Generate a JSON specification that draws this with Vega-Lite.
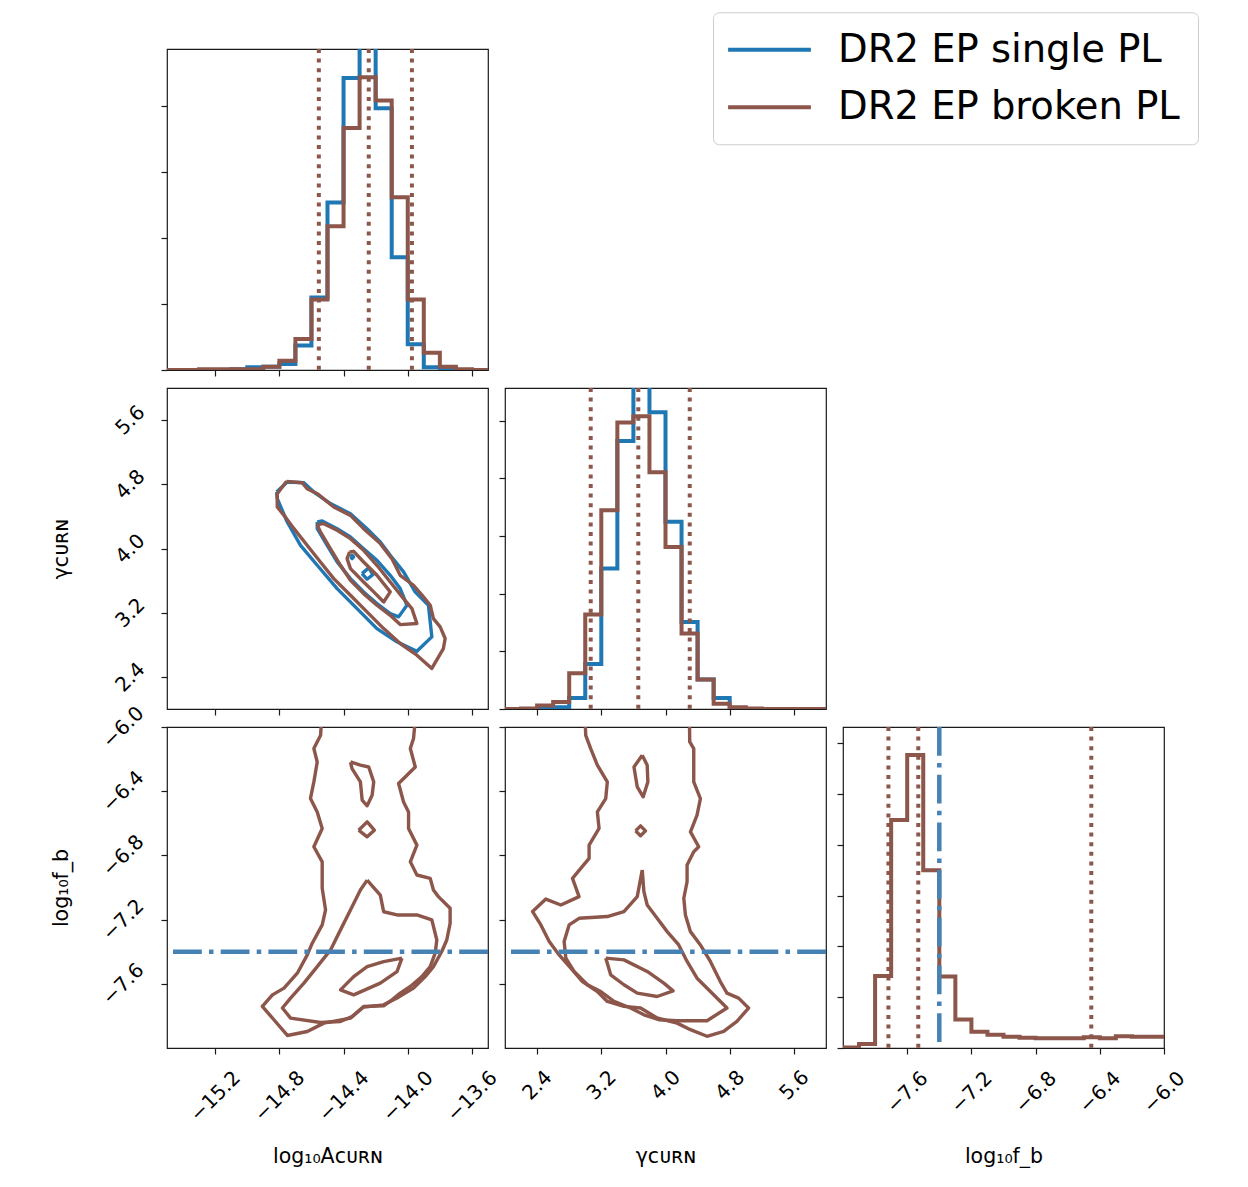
{
"$schema": "https://vega.github.io/schema/vega-lite/v6.json",
"background": "white",
"padding": {"left": 50, "top": 11, "right": 0, "bottom": 0},
"autosize": {"type": "pad"},
"datasets": {
"hA": [{"x":-15.5,"s":0,"b":0},{"x":-15.4,"s":0,"b":0},{"x":-15.3,"s":0,"b":0.01},{"x":-15.2,"s":0,"b":0.01},{"x":-15.1,"s":0.01,"b":0.01},{"x":-15.0,"s":0.04,"b":0.01},{"x":-14.9,"s":0.05,"b":0.05},{"x":-14.8,"s":0.09,"b":0.14},{"x":-14.7,"s":0.37,"b":0.47},{"x":-14.6,"s":1.10,"b":1.07},{"x":-14.5,"s":2.54,"b":2.18},{"x":-14.4,"s":4.43,"b":3.67},{"x":-14.3,"s":5.3,"b":4.44},{"x":-14.2,"s":3.97,"b":4.09},{"x":-14.1,"s":1.71,"b":2.62},{"x":-14.0,"s":0.39,"b":1.07},{"x":-13.9,"s":0.04,"b":0.26},{"x":-13.8,"s":0.01,"b":0.05},{"x":-13.7,"s":0,"b":0.01},{"x":-13.6,"s":0,"b":0},{"x":-13.5,"s":0,"b":0}],
"hB": [{"x":2.0,"s":0,"b":0},{"x":2.2,"s":0,"b":0.01},{"x":2.4,"s":0,"b":0.06},{"x":2.6,"s":0.03,"b":0.12},{"x":2.8,"s":0.19,"b":0.62},{"x":3.0,"s":0.78,"b":1.64},{"x":3.2,"s":2.44,"b":3.45},{"x":3.4,"s":4.65,"b":4.97},{"x":3.6,"s":5.9,"b":5.08},{"x":3.8,"s":5.15,"b":4.11},{"x":4.0,"s":3.25,"b":2.81},{"x":4.2,"s":1.51,"b":1.31},{"x":4.4,"s":0.51,"b":0.51},{"x":4.6,"s":0.19,"b":0.09},{"x":4.8,"s":0.01,"b":0.03},{"x":5.0,"s":0,"b":0.01},{"x":5.2,"s":0,"b":0},{"x":5.4,"s":0,"b":0},{"x":5.6,"s":0,"b":0},{"x":5.8,"s":0,"b":0},{"x":6.0,"s":0,"b":0}],
"hC": [{"x":-8.0,"b":0.01},{"x":-7.9,"b":0.08},{"x":-7.8,"b":1.42},{"x":-7.7,"b":4.49},{"x":-7.6,"b":5.77},{"x":-7.5,"b":3.50},{"x":-7.4,"b":1.41},{"x":-7.3,"b":0.56},{"x":-7.2,"b":0.32},{"x":-7.1,"b":0.26},{"x":-7.0,"b":0.22},{"x":-6.9,"b":0.20},{"x":-6.8,"b":0.19},{"x":-6.7,"b":0.19},{"x":-6.6,"b":0.19},{"x":-6.5,"b":0.21},{"x":-6.4,"b":0.19},{"x":-6.3,"b":0.23},{"x":-6.2,"b":0.22},{"x":-6.1,"b":0.22},{"x":-6.0,"b":0.22}],
"qA": [{"v":-14.554},{"v":-14.243},{"v":-13.974}],
"qB": [{"v":3.068},{"v":3.661},{"v":4.302}],
"qC": [{"v":-7.717},{"v":-7.531},{"v":-6.453}],
"fix": [{"v":-7.4}],
"cDs": [
{"c":"o","x":-14.817,"y":4.704},{"c":"o","x":-14.751,"y":4.828},{"c":"o","x":-14.647,"y":4.820},{"c":"o","x":-14.585,"y":4.704},{"c":"o","x":-14.482,"y":4.559},{"c":"o","x":-14.357,"y":4.434},{"c":"o","x":-14.254,"y":4.247},{"c":"o","x":-14.171,"y":4.081},{"c":"o","x":-14.109,"y":3.915},{"c":"o","x":-14.026,"y":3.708},{"c":"o","x":-13.954,"y":3.459},{"c":"o","x":-13.871,"y":3.293},{"c":"o","x":-13.850,"y":2.899},{"c":"o","x":-13.943,"y":2.720},{"c":"o","x":-14.068,"y":2.837},{"c":"o","x":-14.192,"y":3.002},{"c":"o","x":-14.316,"y":3.251},{"c":"o","x":-14.440,"y":3.500},{"c":"o","x":-14.564,"y":3.791},{"c":"o","x":-14.668,"y":4.040},{"c":"o","x":-14.751,"y":4.330},{"c":"o","x":-14.813,"y":4.621},{"c":"o","x":-14.817,"y":4.704},
{"c":"m","x":-14.564,"y":4.330},{"c":"m","x":-14.533,"y":4.343},{"c":"m","x":-14.440,"y":4.247},{"c":"m","x":-14.357,"y":4.144},{"c":"m","x":-14.275,"y":3.998},{"c":"m","x":-14.192,"y":3.853},{"c":"m","x":-14.109,"y":3.666},{"c":"m","x":-14.047,"y":3.500},{"c":"m","x":-14.005,"y":3.293},{"c":"m","x":-14.057,"y":3.148},{"c":"m","x":-14.109,"y":3.189},{"c":"m","x":-14.192,"y":3.314},{"c":"m","x":-14.275,"y":3.459},{"c":"m","x":-14.357,"y":3.625},{"c":"m","x":-14.440,"y":3.832},{"c":"m","x":-14.502,"y":4.040},{"c":"m","x":-14.564,"y":4.247},{"c":"m","x":-14.564,"y":4.330},
{"c":"i","x":-14.285,"y":3.687},{"c":"i","x":-14.243,"y":3.758},{"c":"i","x":-14.217,"y":3.675},{"c":"i","x":-14.254,"y":3.617},{"c":"i","x":-14.285,"y":3.687},
{"c":"j","x":-14.357,"y":3.895},{"c":"j","x":-14.347,"y":3.915},{"c":"j","x":-14.337,"y":3.895},{"c":"j","x":-14.347,"y":3.874},{"c":"j","x":-14.357,"y":3.895}],
"cDb": [
{"c":"o","x":-14.755,"y":4.837},{"c":"o","x":-14.658,"y":4.820},{"c":"o","x":-14.627,"y":4.745},{"c":"o","x":-14.564,"y":4.683},{"c":"o","x":-14.461,"y":4.517},{"c":"o","x":-14.357,"y":4.413},{"c":"o","x":-14.275,"y":4.247},{"c":"o","x":-14.171,"y":4.061},{"c":"o","x":-14.099,"y":3.874},{"c":"o","x":-14.047,"y":3.666},{"c":"o","x":-13.964,"y":3.542},{"c":"o","x":-13.902,"y":3.397},{"c":"o","x":-13.860,"y":3.293},{"c":"o","x":-13.840,"y":3.127},{"c":"o","x":-13.798,"y":3.023},{"c":"o","x":-13.767,"y":2.878},{"c":"o","x":-13.778,"y":2.753},{"c":"o","x":-13.850,"y":2.505},{"c":"o","x":-13.943,"y":2.670},{"c":"o","x":-14.047,"y":2.816},{"c":"o","x":-14.150,"y":3.002},{"c":"o","x":-14.254,"y":3.210},{"c":"o","x":-14.357,"y":3.417},{"c":"o","x":-14.461,"y":3.625},{"c":"o","x":-14.544,"y":3.832},{"c":"o","x":-14.627,"y":4.040},{"c":"o","x":-14.709,"y":4.247},{"c":"o","x":-14.771,"y":4.413},{"c":"o","x":-14.813,"y":4.517},{"c":"o","x":-14.813,"y":4.683},{"c":"o","x":-14.755,"y":4.837},
{"c":"m","x":-14.564,"y":4.297},{"c":"m","x":-14.523,"y":4.310},{"c":"m","x":-14.440,"y":4.227},{"c":"m","x":-14.357,"y":4.123},{"c":"m","x":-14.275,"y":3.978},{"c":"m","x":-14.192,"y":3.791},{"c":"m","x":-14.109,"y":3.583},{"c":"m","x":-14.026,"y":3.376},{"c":"m","x":-13.974,"y":3.251},{"c":"m","x":-13.943,"y":3.065},{"c":"m","x":-14.047,"y":3.052},{"c":"m","x":-14.109,"y":3.168},{"c":"m","x":-14.192,"y":3.293},{"c":"m","x":-14.275,"y":3.438},{"c":"m","x":-14.357,"y":3.604},{"c":"m","x":-14.419,"y":3.791},{"c":"m","x":-14.482,"y":3.998},{"c":"m","x":-14.544,"y":4.206},{"c":"m","x":-14.564,"y":4.297},
{"c":"i","x":-14.362,"y":3.957},{"c":"i","x":-14.337,"y":3.965},{"c":"i","x":-14.275,"y":3.832},{"c":"i","x":-14.192,"y":3.666},{"c":"i","x":-14.109,"y":3.459},{"c":"i","x":-14.150,"y":3.334},{"c":"i","x":-14.212,"y":3.459},{"c":"i","x":-14.275,"y":3.583},{"c":"i","x":-14.357,"y":3.749},{"c":"i","x":-14.378,"y":3.874},{"c":"i","x":-14.362,"y":3.957}],
"cE": [
{"c":"o","x":-14.537,"y":-5.95},{"c":"o","x":-14.543,"y":-6.052},{"c":"o","x":-14.585,"y":-6.134},{"c":"o","x":-14.564,"y":-6.218},{"c":"o","x":-14.585,"y":-6.342},{"c":"o","x":-14.606,"y":-6.445},{"c":"o","x":-14.564,"y":-6.529},{"c":"o","x":-14.533,"y":-6.632},{"c":"o","x":-14.585,"y":-6.746},{"c":"o","x":-14.533,"y":-6.840},{"c":"o","x":-14.533,"y":-7.005},{"c":"o","x":-14.512,"y":-7.140},{"c":"o","x":-14.533,"y":-7.233},{"c":"o","x":-14.595,"y":-7.347},{"c":"o","x":-14.626,"y":-7.420},{"c":"o","x":-14.688,"y":-7.534},{"c":"o","x":-14.771,"y":-7.627},{"c":"o","x":-14.843,"y":-7.669},{"c":"o","x":-14.906,"y":-7.741},{"c":"o","x":-14.834,"y":-7.824},{"c":"o","x":-14.750,"y":-7.922},{"c":"o","x":-14.626,"y":-7.897},{"c":"o","x":-14.523,"y":-7.845},{"c":"o","x":-14.357,"y":-7.814},{"c":"o","x":-14.275,"y":-7.745},{"c":"o","x":-14.150,"y":-7.731},{"c":"o","x":-14.057,"y":-7.683},{"c":"o","x":-13.964,"y":-7.627},{"c":"o","x":-13.891,"y":-7.555},{"c":"o","x":-13.840,"y":-7.493},{"c":"o","x":-13.788,"y":-7.399},{"c":"o","x":-13.757,"y":-7.327},{"c":"o","x":-13.736,"y":-7.223},{"c":"o","x":-13.736,"y":-7.129},{"c":"o","x":-13.809,"y":-7.057},{"c":"o","x":-13.840,"y":-7.016},{"c":"o","x":-13.860,"y":-6.943},{"c":"o","x":-13.943,"y":-6.922},{"c":"o","x":-13.984,"y":-6.840},{"c":"o","x":-13.943,"y":-6.736},{"c":"o","x":-13.995,"y":-6.632},{"c":"o","x":-13.995,"y":-6.529},{"c":"o","x":-14.026,"y":-6.467},{"c":"o","x":-14.057,"y":-6.352},{"c":"o","x":-13.953,"y":-6.249},{"c":"o","x":-13.984,"y":-6.134},{"c":"o","x":-13.964,"y":-6.072},{"c":"o","x":-13.953,"y":-5.95},
{"c":"s","x":-14.253,"y":-6.954},{"c":"s","x":-14.171,"y":-7.047},{"c":"s","x":-14.150,"y":-7.151},{"c":"s","x":-14.067,"y":-7.171},{"c":"s","x":-13.943,"y":-7.171},{"c":"s","x":-13.850,"y":-7.202},{"c":"s","x":-13.819,"y":-7.327},{"c":"s","x":-13.829,"y":-7.409},{"c":"s","x":-13.860,"y":-7.493},{"c":"s","x":-13.912,"y":-7.555},{"c":"s","x":-13.984,"y":-7.617},{"c":"s","x":-14.047,"y":-7.658},{"c":"s","x":-14.098,"y":-7.700},{"c":"s","x":-14.150,"y":-7.737},{"c":"s","x":-14.275,"y":-7.741},{"c":"s","x":-14.347,"y":-7.804},{"c":"s","x":-14.419,"y":-7.835},{"c":"s","x":-14.543,"y":-7.841},{"c":"s","x":-14.730,"y":-7.814},{"c":"s","x":-14.781,"y":-7.751},{"c":"s","x":-14.730,"y":-7.689},{"c":"s","x":-14.647,"y":-7.596},{"c":"s","x":-14.564,"y":-7.493},{"c":"s","x":-14.481,"y":-7.389},{"c":"s","x":-14.419,"y":-7.264},{"c":"s","x":-14.357,"y":-7.140},{"c":"s","x":-14.295,"y":-7.016},{"c":"s","x":-14.253,"y":-6.954},
{"c":"i","x":-14.036,"y":-7.440},{"c":"i","x":-14.067,"y":-7.524},{"c":"i","x":-14.171,"y":-7.596},{"c":"i","x":-14.337,"y":-7.669},{"c":"i","x":-14.419,"y":-7.638},{"c":"i","x":-14.337,"y":-7.555},{"c":"i","x":-14.253,"y":-7.493},{"c":"i","x":-14.150,"y":-7.462},{"c":"i","x":-14.036,"y":-7.440},
{"c":"k","x":-14.357,"y":-6.218},{"c":"k","x":-14.295,"y":-6.238},{"c":"k","x":-14.243,"y":-6.249},{"c":"k","x":-14.212,"y":-6.342},{"c":"k","x":-14.222,"y":-6.425},{"c":"k","x":-14.253,"y":-6.491},{"c":"k","x":-14.284,"y":-6.456},{"c":"k","x":-14.295,"y":-6.342},{"c":"k","x":-14.347,"y":-6.259},{"c":"k","x":-14.357,"y":-6.218},
{"c":"d","x":-14.306,"y":-6.643},{"c":"d","x":-14.253,"y":-6.591},{"c":"d","x":-14.208,"y":-6.643},{"c":"d","x":-14.253,"y":-6.684},{"c":"d","x":-14.306,"y":-6.643}],
"cF": [
{"c":"o","x":2.998,"y":-5.95},{"c":"o","x":3.006,"y":-6.052},{"c":"o","x":3.068,"y":-6.135},{"c":"o","x":3.151,"y":-6.238},{"c":"o","x":3.275,"y":-6.342},{"c":"o","x":3.255,"y":-6.446},{"c":"o","x":3.151,"y":-6.529},{"c":"o","x":3.172,"y":-6.632},{"c":"o","x":3.048,"y":-6.736},{"c":"o","x":3.048,"y":-6.819},{"c":"o","x":2.944,"y":-6.881},{"c":"o","x":2.841,"y":-6.943},{"c":"o","x":2.923,"y":-7.057},{"c":"o","x":2.696,"y":-7.109},{"c":"o","x":2.509,"y":-7.072},{"c":"o","x":2.344,"y":-7.150},{"c":"o","x":2.447,"y":-7.233},{"c":"o","x":2.551,"y":-7.337},{"c":"o","x":2.675,"y":-7.420},{"c":"o","x":2.820,"y":-7.503},{"c":"o","x":2.965,"y":-7.586},{"c":"o","x":3.151,"y":-7.648},{"c":"o","x":3.275,"y":-7.710},{"c":"o","x":3.482,"y":-7.741},{"c":"o","x":3.689,"y":-7.751},{"c":"o","x":3.896,"y":-7.813},{"c":"o","x":4.145,"y":-7.845},{"c":"o","x":4.311,"y":-7.886},{"c":"o","x":4.517,"y":-7.927},{"c":"o","x":4.725,"y":-7.896},{"c":"o","x":4.890,"y":-7.834},{"c":"o","x":5.035,"y":-7.751},{"c":"o","x":4.911,"y":-7.689},{"c":"o","x":4.766,"y":-7.658},{"c":"o","x":4.683,"y":-7.586},{"c":"o","x":4.559,"y":-7.461},{"c":"o","x":4.435,"y":-7.358},{"c":"o","x":4.311,"y":-7.275},{"c":"o","x":4.248,"y":-7.171},{"c":"o","x":4.228,"y":-7.067},{"c":"o","x":4.269,"y":-6.964},{"c":"o","x":4.269,"y":-6.860},{"c":"o","x":4.352,"y":-6.777},{"c":"o","x":4.414,"y":-6.746},{"c":"o","x":4.311,"y":-6.653},{"c":"o","x":4.393,"y":-6.549},{"c":"o","x":4.435,"y":-6.446},{"c":"o","x":4.352,"y":-6.342},{"c":"o","x":4.352,"y":-6.238},{"c":"o","x":4.352,"y":-6.135},{"c":"o","x":4.302,"y":-6.093},{"c":"o","x":4.298,"y":-5.95},
{"c":"s","x":3.710,"y":-6.891},{"c":"s","x":3.648,"y":-7.057},{"c":"s","x":3.482,"y":-7.150},{"c":"s","x":3.275,"y":-7.181},{"c":"s","x":2.923,"y":-7.192},{"c":"s","x":2.799,"y":-7.233},{"c":"s","x":2.737,"y":-7.337},{"c":"s","x":2.758,"y":-7.440},{"c":"s","x":2.861,"y":-7.523},{"c":"s","x":3.027,"y":-7.606},{"c":"s","x":3.193,"y":-7.648},{"c":"s","x":3.358,"y":-7.710},{"c":"s","x":3.565,"y":-7.751},{"c":"s","x":3.731,"y":-7.793},{"c":"s","x":3.917,"y":-7.824},{"c":"s","x":4.145,"y":-7.830},{"c":"s","x":4.517,"y":-7.830},{"c":"s","x":4.766,"y":-7.751},{"c":"s","x":4.600,"y":-7.668},{"c":"s","x":4.393,"y":-7.565},{"c":"s","x":4.269,"y":-7.461},{"c":"s","x":4.165,"y":-7.358},{"c":"s","x":4.021,"y":-7.275},{"c":"s","x":3.896,"y":-7.192},{"c":"s","x":3.772,"y":-7.109},{"c":"s","x":3.731,"y":-7.026},{"c":"s","x":3.710,"y":-6.891},
{"c":"i","x":3.255,"y":-7.440},{"c":"i","x":3.482,"y":-7.451},{"c":"i","x":3.772,"y":-7.523},{"c":"i","x":3.979,"y":-7.596},{"c":"i","x":4.095,"y":-7.644},{"c":"i","x":3.896,"y":-7.679},{"c":"i","x":3.648,"y":-7.658},{"c":"i","x":3.482,"y":-7.606},{"c":"i","x":3.317,"y":-7.544},{"c":"i","x":3.275,"y":-7.472},{"c":"i","x":3.255,"y":-7.440},
{"c":"k","x":3.710,"y":-6.176},{"c":"k","x":3.772,"y":-6.238},{"c":"k","x":3.780,"y":-6.342},{"c":"k","x":3.722,"y":-6.435},{"c":"k","x":3.648,"y":-6.373},{"c":"k","x":3.607,"y":-6.249},{"c":"k","x":3.710,"y":-6.176},
{"c":"d","x":3.627,"y":-6.647},{"c":"d","x":3.689,"y":-6.616},{"c":"d","x":3.751,"y":-6.647},{"c":"d","x":3.689,"y":-6.678},{"c":"d","x":3.627,"y":-6.647}]
},
"concat": [
{
"width": 321, "height": 321,
"layer": [
{"data": {"name": "hA"}, "mark": {"type": "line", "interpolate": "step-after", "strokeWidth": 4, "clip": true},
 "encoding": {
  "x": {"field": "x", "type": "quantitative", "title": null, "scale": {"domain": [-15.5, -13.5], "nice": false, "zero": false}, "axis": {"values": [-15.2, -14.8, -14.4, -14.0, -13.6], "labels": false}},
  "y": {"field": "s", "type": "quantitative", "title": null, "scale": {"domain": [0, 4.87], "nice": false, "zero": false}, "axis": {"values": [0, 1, 2, 3, 4], "labels": false}},
  "stroke": {"datum": "DR2 EP single PL", "type": "nominal", "scale": {"domain": ["DR2 EP single PL", "DR2 EP broken PL"], "range": ["#1f77b4", "#8c564b"]}, "legend": {"title": null}}}},
{"data": {"name": "hA"}, "mark": {"type": "line", "interpolate": "step-after", "strokeWidth": 4, "clip": true},
 "encoding": {
  "x": {"field": "x", "type": "quantitative", "title": null},
  "y": {"field": "b", "type": "quantitative", "title": null},
  "stroke": {"datum": "DR2 EP broken PL", "type": "nominal", "scale": {"domain": ["DR2 EP single PL", "DR2 EP broken PL"], "range": ["#1f77b4", "#8c564b"]}, "legend": {"title": null}}}},
{"data": {"name": "qA"}, "mark": {"type": "rule", "color": "#8c564b", "strokeWidth": 4, "strokeDash": [4, 5.6]},
 "encoding": {"x": {"field": "v", "type": "quantitative", "title": null}}}
]
},
{"width": 321, "height": 321, "view": {"stroke": null}, "data": {"name": "fix"}, "mark": {"type": "point", "opacity": 0}},
{"width": 321, "height": 321, "view": {"stroke": null}, "data": {"name": "fix"}, "mark": {"type": "point", "opacity": 0}},
{
"width": 321, "height": 321,
"layer": [
{"data": {"name": "cDs"}, "mark": {"type": "line", "strokeWidth": 3.4, "strokeJoin": "round", "clip": true},
 "encoding": {
  "x": {"field": "x", "type": "quantitative", "title": null, "scale": {"domain": [-15.5, -13.5], "nice": false, "zero": false}, "axis": {"values": [-15.2, -14.8, -14.4, -14.0, -13.6], "labels": false}},
  "y": {"field": "y", "type": "quantitative", "scale": {"domain": [2, 6], "nice": false, "zero": false}, "axis": {"values": [2.4, 3.2, 4.0, 4.8, 5.6], "format": ".1f", "labelPadding": 31, "title": "γᴄᴜʀɴ"}},
  "detail": {"field": "c"},
  "order": {"value": null},
  "stroke": {"datum": "DR2 EP single PL", "type": "nominal", "scale": {"domain": ["DR2 EP single PL", "DR2 EP broken PL"], "range": ["#1f77b4", "#8c564b"]}, "legend": {"title": null}}}},
{"data": {"name": "cDb"}, "mark": {"type": "line", "strokeWidth": 3.4, "strokeJoin": "round", "clip": true},
 "encoding": {
  "x": {"field": "x", "type": "quantitative", "title": null},
  "y": {"field": "y", "type": "quantitative"},
  "detail": {"field": "c"},
  "order": {"value": null},
  "stroke": {"datum": "DR2 EP broken PL", "type": "nominal", "scale": {"domain": ["DR2 EP single PL", "DR2 EP broken PL"], "range": ["#1f77b4", "#8c564b"]}, "legend": {"title": null}}}}
]
},
{
"width": 321, "height": 321,
"layer": [
{"data": {"name": "hB"}, "mark": {"type": "line", "interpolate": "step-after", "strokeWidth": 4, "clip": true},
 "encoding": {
  "x": {"field": "x", "type": "quantitative", "title": null, "scale": {"domain": [2, 6], "nice": false, "zero": false}, "axis": {"values": [2.4, 3.2, 4.0, 4.8, 5.6], "labels": false}},
  "y": {"field": "s", "type": "quantitative", "title": null, "scale": {"domain": [0, 5.57], "nice": false, "zero": false}, "axis": {"values": [0, 1, 2, 3, 4, 5], "labels": false}},
  "stroke": {"datum": "DR2 EP single PL", "type": "nominal", "scale": {"domain": ["DR2 EP single PL", "DR2 EP broken PL"], "range": ["#1f77b4", "#8c564b"]}, "legend": {"title": null}}}},
{"data": {"name": "hB"}, "mark": {"type": "line", "interpolate": "step-after", "strokeWidth": 4, "clip": true},
 "encoding": {
  "x": {"field": "x", "type": "quantitative", "title": null},
  "y": {"field": "b", "type": "quantitative", "title": null},
  "stroke": {"datum": "DR2 EP broken PL", "type": "nominal", "scale": {"domain": ["DR2 EP single PL", "DR2 EP broken PL"], "range": ["#1f77b4", "#8c564b"]}, "legend": {"title": null}}}},
{"data": {"name": "qB"}, "mark": {"type": "rule", "color": "#8c564b", "strokeWidth": 4, "strokeDash": [4, 5.6]},
 "encoding": {"x": {"field": "v", "type": "quantitative", "title": null}}}
]
},
{"width": 321, "height": 321, "view": {"stroke": null}, "data": {"name": "fix"}, "mark": {"type": "point", "opacity": 0}},
{
"width": 321, "height": 321,
"layer": [
{"data": {"name": "cE"}, "mark": {"type": "line", "strokeWidth": 3.4, "strokeJoin": "round", "clip": true},
 "encoding": {
  "x": {"field": "x", "type": "quantitative", "scale": {"domain": [-15.5, -13.5], "nice": false, "zero": false}, "axis": {"values": [-15.2, -14.8, -14.4, -14.0, -13.6], "format": ".1f", "labelPadding": 42, "title": "log₁₀Aᴄᴜʀɴ"}},
  "y": {"field": "y", "type": "quantitative", "scale": {"domain": [-8, -6], "nice": false, "zero": false}, "axis": {"values": [-7.6, -7.2, -6.8, -6.4, -6.0], "format": ".1f", "labelPadding": 38, "title": "log₁₀f_b"}},
  "detail": {"field": "c"},
  "order": {"value": null},
  "stroke": {"datum": "DR2 EP broken PL", "type": "nominal", "scale": {"domain": ["DR2 EP single PL", "DR2 EP broken PL"], "range": ["#1f77b4", "#8c564b"]}, "legend": {"title": null}}}},
{"data": {"name": "fix"}, "mark": {"type": "rule", "color": "#4682b4", "strokeWidth": 4.5, "strokeDash": [28.8, 7.2, 4.5, 7.2]},
 "encoding": {"y": {"field": "v", "type": "quantitative"}}}
]
},
{
"width": 321, "height": 321,
"layer": [
{"data": {"name": "cF"}, "mark": {"type": "line", "strokeWidth": 3.4, "strokeJoin": "round", "clip": true},
 "encoding": {
  "x": {"field": "x", "type": "quantitative", "scale": {"domain": [2, 6], "nice": false, "zero": false}, "axis": {"values": [2.4, 3.2, 4.0, 4.8, 5.6], "format": ".1f", "labelPadding": 31, "title": "γᴄᴜʀɴ"}},
  "y": {"field": "y", "type": "quantitative", "title": null, "scale": {"domain": [-8, -6], "nice": false, "zero": false}, "axis": {"values": [-7.6, -7.2, -6.8, -6.4, -6.0], "labels": false}},
  "detail": {"field": "c"},
  "order": {"value": null},
  "stroke": {"datum": "DR2 EP broken PL", "type": "nominal", "scale": {"domain": ["DR2 EP single PL", "DR2 EP broken PL"], "range": ["#1f77b4", "#8c564b"]}, "legend": {"title": null}}}},
{"data": {"name": "fix"}, "mark": {"type": "rule", "color": "#4682b4", "strokeWidth": 4.5, "strokeDash": [28.8, 7.2, 4.5, 7.2]},
 "encoding": {"y": {"field": "v", "type": "quantitative", "title": null}}}
]
},
{
"width": 321, "height": 321,
"layer": [
{"data": {"name": "hC"}, "mark": {"type": "line", "interpolate": "step-after", "strokeWidth": 4, "clip": true},
 "encoding": {
  "x": {"field": "x", "type": "quantitative", "scale": {"domain": [-8, -6], "nice": false, "zero": false}, "axis": {"values": [-7.6, -7.2, -6.8, -6.4, -6.0], "format": ".1f", "labelPadding": 38, "title": "log₁₀f_b"}},
  "y": {"field": "b", "type": "quantitative", "title": null, "scale": {"domain": [0, 6.32], "nice": false, "zero": false}, "axis": {"values": [0, 1, 2, 3, 4, 5, 6], "labels": false}},
  "stroke": {"datum": "DR2 EP broken PL", "type": "nominal", "scale": {"domain": ["DR2 EP single PL", "DR2 EP broken PL"], "range": ["#1f77b4", "#8c564b"]}, "legend": {"title": null}}}},
{"data": {"name": "qC"}, "mark": {"type": "rule", "color": "#8c564b", "strokeWidth": 4, "strokeDash": [4, 5.6]},
 "encoding": {"x": {"field": "v", "type": "quantitative"}}},
{"data": {"name": "fix"}, "mark": {"type": "rule", "color": "#4682b4", "strokeWidth": 4.5, "strokeDash": [28.8, 7.2, 4.5, 7.2]},
 "encoding": {"x": {"field": "v", "type": "quantitative"}}}
]
}
],
"columns": 3,
"spacing": {"row": 18, "column": 17},
"bounds": "flush",
"config": {
 "view": {"stroke": "#1a1a1a", "strokeWidth": 1.2},
 "axis": {"domain": false, "grid": false, "ticks": true, "tickColor": "#1a1a1a", "tickSize": 6, "tickWidth": 1.2, "labelFont": "DejaVu Sans", "labelFontSize": 20, "labelColor": "#000000", "labelAngle": -45, "labelAlign": "center", "labelBaseline": "middle", "labelOverlap": false, "labelFlush": false, "labelBound": false, "titleFont": "DejaVu Sans", "titleFontSize": 20.5, "titleFontWeight": "normal", "titleColor": "#000000"},
 "axisX": {"titleY": 108, "titleBaseline": "middle", "titleAlign": "center"},
 "axisY": {"titleX": -106, "titleY": 160.5, "titleBaseline": "middle", "titleAlign": "center", "titleAngle": -90},
 "legend": {"orient": "none", "legendX": 546, "legendY": -36.75, "symbolType": "M-2.3,0H2.3", "symbolSize": 1296, "symbolStrokeWidth": 4, "symbolOffset": 19, "labelFont": "DejaVu Sans", "labelFontSize": 38.5, "labelColor": "#000000", "labelOffset": 48.5, "labelLimit": 600, "rowPadding": 17.5, "padding": 17.5, "strokeColor": "#cccccc", "fillColor": "#ffffff", "cornerRadius": 6}
}
}
